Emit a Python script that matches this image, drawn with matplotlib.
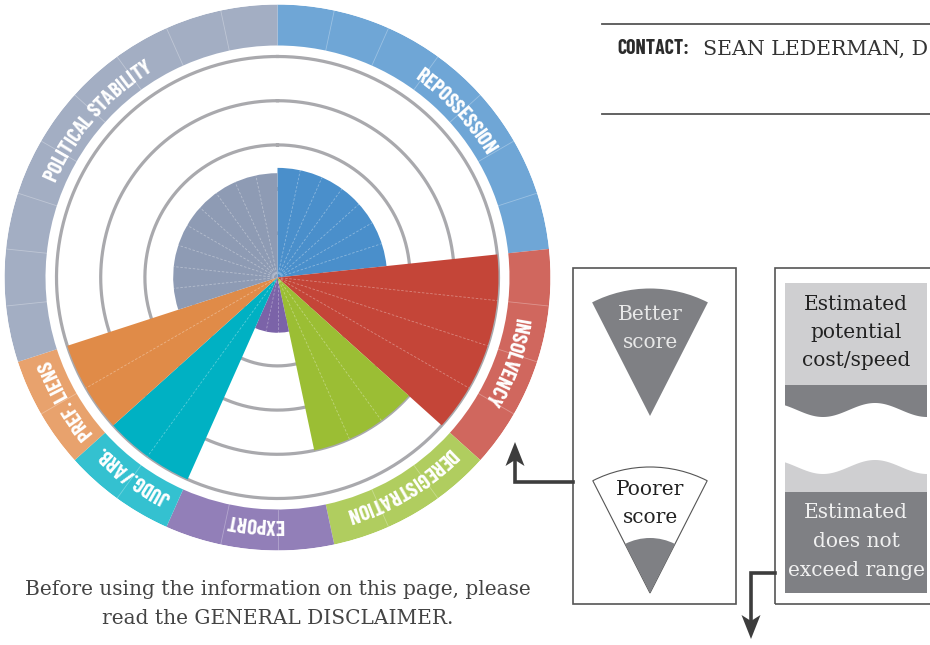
import os
import numpy as np
import matplotlib
matplotlib.use('Agg')
import matplotlib.pyplot as plt
from matplotlib import font_manager
from matplotlib.font_manager import FontProperties, get_font
from matplotlib.patches import Rectangle, Wedge, Polygon
try:
    from matplotlib.ft2font import Kerning, LoadFlags
    KERN, NOHINT = Kerning.DEFAULT, LoadFlags.NO_HINTING
except ImportError:
    from matplotlib.ft2font import KERNING_DEFAULT as KERN, LOAD_NO_HINTING as NOHINT


# DATA
categories = ['REPOSSESSION', 'INSOLVENCY', 'DEREGISTRATION', 'EXPORT',
              'JUDG./ARB.', 'PREF. LIENS', 'POLITICAL STABILITY']
segments = [7, 4, 3, 3, 2, 2, 9]          # number of 12-degree steps per category
scores = [2.48, 5.0, 4.0, 1.25, 5.0, 5.0, 2.36]
label_angles = [47, 110, 149, 185, 216, 240, 311]
wedge_colors = ['#4a8fcb', '#c44538', '#9bbe34', '#7b63a8', '#00b1c3', '#e08b48', '#8e9bb4']
ring_colors = ['#6fa6d6', '#d0675e', '#b0cd5f', '#927fb8', '#34c1d0', '#e8a26d', '#a3aec3']
grid_levels = [1, 2, 3, 4, 5]
STEP = 12

legend_left = [['Better', 'score'], ['Poorer', 'score']]
legend_right = [['Estimated', 'potential', 'cost/speed'], ['Estimated', 'does not', 'exceed range']]
disclaimer = ['Before using the information on this page, please', 'read the GENERAL DISCLAIMER.']

SERIF = 'DejaVu Serif'
W, H = 930, 645
DPI = 100
PX = 44.2                 # pixels per score unit
R_IN, R_OUT = 232 / PX, 273 / PX
CX, CY = 277.5, 277.5     # centre of the wheel (image pixels, y down)

fig = plt.figure(figsize=(W / DPI, H / DPI), dpi=DPI)
fig.patch.set_facecolor('white')


def advances(fname, size, s):
    # pen position and advance of each character, in pixels
    ft = get_font(fname)
    ft.set_size(size, DPI)
    pos, adv, pen, prev = [], [], 0.0, None
    for ch in s:
        gi = ft.get_char_index(ord(ch))
        if prev is not None:
            pen += ft.get_kerning(prev, gi, KERN) / 64
        g = ft.load_char(ord(ch), flags=NOHINT)
        a = g.linearHoriAdvance / 65536
        pos.append(pen)
        adv.append(a)
        pen += a
        prev = gi
    return np.array(pos), np.array(adv), pen


def cap_height(fname, size):
    ft = get_font(fname)
    ft.set_size(size, DPI)
    return ft.load_char(ord('H'), flags=NOHINT).height / 64


# PICK THE BOLD CONDENSED FONT WHOSE PROPORTIONS COME CLOSEST TO THE REFERENCE
R_MID_PX = 251.0
TARGET_W = np.deg2rad(37.5) * R_MID_PX     # POLITICAL STABILITY spans ~38 deg
TARGET_CAP = 15.0
best = None
for f in font_manager.fontManager.ttflist:
    fn = os.path.basename(f.fname).lower()
    wt = f.weight if isinstance(f.weight, int) else font_manager.weight_dict.get(f.weight, 400)
    if wt < 600 or wt > 800 or not ('condens' in fn or 'narrow' in fn):
        continue
    if 'italic' in fn or 'oblique' in fn:
        continue
    try:
        size = 10 * TARGET_W / advances(f.fname, 10, 'POLITICAL STABILITY')[2]
        cap = cap_height(f.fname, size)
    except Exception:
        continue
    err = abs(cap - TARGET_CAP)
    if best is None or err < best[0]:
        best = (err, f.fname, size)
if best is None:
    fb = font_manager.findfont(FontProperties(family='Roboto', weight='bold'))
    best = (0, fb, 10 * TARGET_W / advances(fb, 10, 'POLITICAL STABILITY')[2])
COND_FILE = best[1]
lab_size = min(best[2], 15)

# 1. THE WHEEL (POLAR AXES)
ax = fig.add_axes([(CX - R_OUT * PX) / W, (H - CY - R_OUT * PX) / H,
                   2 * R_OUT * PX / W, 2 * R_OUT * PX / H], projection='polar')
ax.set_theta_zero_location('N')
ax.set_theta_direction(-1)
ax.set_ylim(0, R_OUT)
ax.axis('off')

theta_full = np.linspace(0, 2 * np.pi, 720)
for lv in grid_levels:
    ax.plot(theta_full, np.full_like(theta_full, lv), color='#a9a9ad', lw=2.3, zorder=1)

start = 0
for n, sc, wc, rc in zip(segments, scores, wedge_colors, ring_colors):
    t0 = np.deg2rad(start * STEP)
    span = np.deg2rad(n * STEP)
    ax.bar(t0, sc, width=span, bottom=0, align='edge', color=wc, lw=0, zorder=2)
    ax.bar(t0, R_OUT - R_IN, width=span, bottom=R_IN, align='edge', color=rc, lw=0, zorder=2)
    for k in range(1, n):
        tk = np.deg2rad((start + k) * STEP)
        ax.plot([tk, tk], [0.08, sc], color='white', alpha=0.35, lw=0.6,
                ls=(0, (3, 2)), zorder=3)
        ax.plot([tk, tk], [R_IN, R_OUT], color='white', alpha=0.3, lw=0.6, zorder=3)
    start += n

# curved labels on the ring, one glyph at a time, tops facing outwards
fp = FontProperties(fname=COND_FILE, size=lab_size)
cap_px = cap_height(COND_FILE, lab_size)
R_BASE = (248.5 - cap_px / 2) / PX
for lab, ang in zip(categories, label_angles):
    pos, adv, total = advances(COND_FILE, lab_size, lab)
    for ch, p, a in zip(lab, pos, adv):
        if ch == ' ':
            continue
        th = ang + np.rad2deg((p + a / 2 - total / 2) / R_MID_PX)
        ax.text(np.deg2rad(th), R_BASE, ch, fontproperties=fp, color='white',
                rotation=-th, rotation_mode='anchor', ha='center', va='baseline', zorder=4)

# 2. PAGE ELEMENTS (PIXEL AXES, y UP)
pg = fig.add_axes([0, 0, 1, 1], facecolor='none')
pg.set_xlim(0, W)
pg.set_ylim(0, H)
pg.axis('off')


def Y(y):
    return H - y


DARK = '#7f8084'
LIGHT = '#cfcfd1'
LINE = '#555555'

# contact header
pg.plot([602, W], [Y(23.5), Y(23.5)], color='#555555', lw=1.3)
pg.plot([602, W], [Y(114), Y(114)], color='#555555', lw=1.3)
c_size = min(10 * 72 / advances(COND_FILE, 10, 'CONTACT:')[2], 14.5)
pg.text(617, Y(54.5), 'CONTACT:', fontproperties=FontProperties(fname=COND_FILE, size=c_size),
        color='#2b2b2b', va='baseline', ha='left')
pg.text(703, Y(54.5), 'SEAN LEDERMAN, D', family=SERIF, size=14.8,
        color='#333333', va='baseline', ha='left')

# legend box 1
pg.add_patch(Rectangle((573, Y(604)), 163, 336, fill=False, ec=LINE, lw=1.2))
pg.add_patch(Wedge((650, Y(416)), 127.5, 63, 117, fc=DARK, ec='none'))
for txt, yb in zip(legend_left[0], [320, 348]):
    pg.text(650, Y(yb), txt, family=SERIF, size=14.5, color='#e8e8e8',
            ha='center', va='baseline')
pg.add_patch(Wedge((650, Y(593)), 126, 63, 117, fc='white', ec=LINE, lw=0.8))
pg.add_patch(Wedge((650, Y(593)), 55, 63, 117, fc=DARK, ec='none'))
for txt, yb in zip(legend_left[1], [495, 523]):
    pg.text(650, Y(yb), txt, family=SERIF, size=14.5, color='#222222',
            ha='center', va='baseline')

# legend box 2
pg.add_patch(Rectangle((775, Y(604)), 200, 336, fill=False, ec=LINE, lw=1.2))
pg.add_patch(Rectangle((785, Y(385)), 142, 102, fc=LIGHT, ec='none'))
wx = np.linspace(785, 927, 200)
wave = 7 * np.sin(2 * np.pi * (wx - 823) / 104 - np.pi / 2)
pg.add_patch(Polygon(np.column_stack([np.r_[wx, wx[::-1]],
                                      np.r_[Y(410) + wave, np.full(wx.size, Y(385))]]),
                     fc=DARK, ec='none'))
pg.add_patch(Polygon(np.column_stack([np.r_[wx, wx[::-1]],
                                      np.r_[Y(467) + wave, np.full(wx.size, Y(492))]]),
                     fc=LIGHT, ec='none'))
pg.add_patch(Rectangle((785, Y(593)), 142, 101, fc=DARK, ec='none'))
for txt, yb in zip(legend_right[0], [310, 338.5, 366.5]):
    pg.text(856, Y(yb), txt, family=SERIF, size=14.5, color='#222222',
            ha='center', va='baseline')
for txt, yb in zip(legend_right[1], [518.5, 547, 576]):
    pg.text(856, Y(yb), txt, family=SERIF, size=14.5, color='#f0f0f0',
            ha='center', va='baseline')

# arrows
ARW = '#3d3d3d'
pg.plot([573, 515, 515], [Y(482), Y(482), Y(458)], color=ARW, lw=2.6, solid_joinstyle='miter')
pg.add_patch(Polygon([(515, Y(442)), (505.5, Y(466)), (515, Y(460)), (524.5, Y(466))],
                     fc=ARW, ec='none'))
pg.plot([775, 751, 751], [Y(573), Y(573), Y(622)], color=ARW, lw=2.6, solid_joinstyle='miter')
pg.add_patch(Polygon([(751, Y(639)), (741.5, Y(615)), (751, Y(621)), (760.5, Y(615))],
                     fc=ARW, ec='none'))

# disclaimer
for txt, yb in zip(disclaimer, [595, 624]):
    pg.text(278, Y(yb), txt, family=SERIF, size=14.5, color='#444444',
            ha='center', va='baseline')

fig.savefig('out.png', dpi=DPI)
